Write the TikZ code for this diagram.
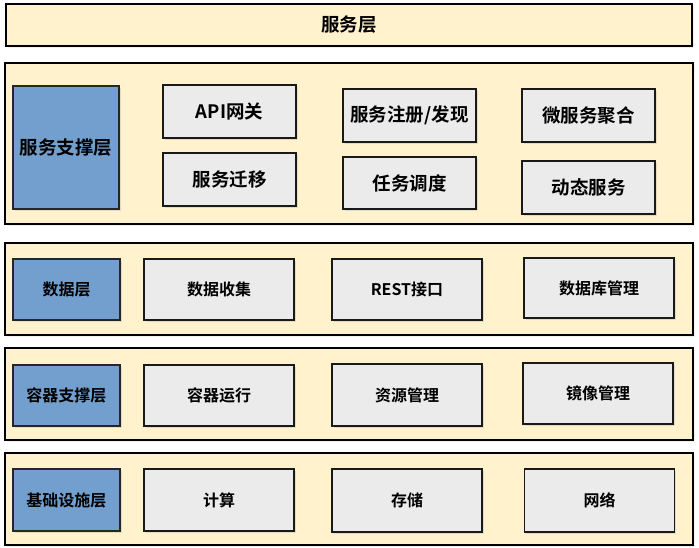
\documentclass[tikz,border=0pt]{standalone}
\usepackage{fontspec}
\newfontfamily\cjk{Noto Sans CJK SC}[BoldFont={Noto Sans CJK SC Bold}]
\usetikzlibrary{shadows}
\definecolor{bandfill}{HTML}{FFF2CC}
\definecolor{bluefill}{HTML}{729FCD}
\definecolor{grayfill}{HTML}{EBEBEB}
\tikzset{
  band/.style={draw=black, line width=1.6pt, fill=bandfill, inner sep=0pt,
    drop shadow={opacity=0.12, shadow xshift=1.5pt, shadow yshift=-2pt}},
  bluebox/.style={draw=black!85, line width=1.5pt, fill=bluefill, inner sep=0pt,
    font=\cjk\bfseries, drop shadow={opacity=0.2, shadow xshift=2pt, shadow yshift=-2pt}},
  graybox/.style={draw=black!90, line width=1.5pt, fill=grayfill, inner sep=0pt,
    font=\cjk\bfseries, drop shadow={opacity=0.2, shadow xshift=1.5pt, shadow yshift=-1.5pt}},
  big/.style={font=\cjk\bfseries\fontsize{18.5}{20}\selectfont},
  small/.style={font=\cjk\bfseries\fontsize{16}{18}\selectfont},
}
\begin{document}
\begin{tikzpicture}[x=1pt, y=-1pt]
\useasboundingbox (0,0) rectangle (699,547);
% bands
\node[band, big, minimum width=686pt, minimum height=42pt] (svc) at (349,25) {服务层};
\node[band, minimum width=688pt, minimum height=161pt] (b2) at (349,143.5) {};
\node[band, minimum width=688pt, minimum height=92pt] (b3) at (349,289) {};
\node[band, minimum width=688pt, minimum height=92pt] (b4) at (349,394) {};
\node[band, minimum width=688pt, minimum height=92pt] (b5) at (349,499) {};
% band 2
\node[bluebox, big, minimum width=106pt, minimum height=123pt] (l2) at (66,147.5) {服务支撑层};
\node[graybox, big, minimum width=133pt, minimum height=53pt] (api) at (229.5,111.5) {API网关};
\node[graybox, big, minimum width=133pt, minimum height=53pt] (mig) at (229.5,179.5) {服务迁移};
\node[graybox, big, minimum width=133pt, minimum height=53pt] (reg) at (409.5,115.5) {服务注册/发现};
\node[graybox, big, minimum width=133pt, minimum height=52pt] (sch) at (409.5,183) {任务调度};
\node[graybox, big, minimum width=133pt, minimum height=53pt] (agg) at (588.5,115.5) {微服务聚合};
\node[graybox, big, minimum width=133pt, minimum height=53pt] (dyn) at (588.5,187.5) {动态服务};
% band 3
\node[bluebox, small, minimum width=107pt, minimum height=61pt] (l3) at (66.5,289.5) {数据层};
\node[graybox, small, minimum width=150pt, minimum height=61pt] (col) at (219,289.5) {数据收集};
\node[graybox, small, minimum width=150pt, minimum height=61pt] (rest) at (407,289.5) {REST接口};
\node[graybox, small, minimum width=150pt, minimum height=60pt] (db) at (599,288) {数据库管理};
% band 4
\node[bluebox, small, minimum width=107pt, minimum height=61pt] (l4) at (66.5,395.5) {容器支撑层};
\node[graybox, small, minimum width=150pt, minimum height=61pt] (run) at (219,395.5) {容器运行};
\node[graybox, small, minimum width=150pt, minimum height=62pt] (res) at (407,395) {资源管理};
\node[graybox, small, minimum width=150pt, minimum height=61pt] (img) at (598,393.5) {镜像管理};
% band 5
\node[bluebox, small, minimum width=107pt, minimum height=62pt] (l5) at (66.5,500) {基础设施层};
\node[graybox, small, minimum width=150pt, minimum height=62pt] (cmp) at (219,500) {计算};
\node[graybox, small, minimum width=150pt, minimum height=63pt] (sto) at (407,500.5) {存储};
\node[graybox, small, minimum width=150pt, minimum height=63pt] (net) at (599.5,500.5) {网络};
\end{tikzpicture}
\end{document}
